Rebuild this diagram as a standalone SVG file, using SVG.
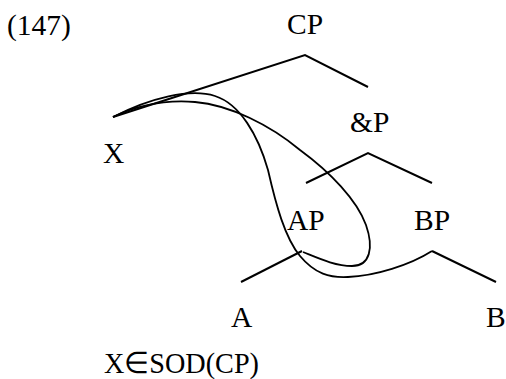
<svg xmlns="http://www.w3.org/2000/svg" width="506" height="379" viewBox="0 0 506 379">
<style>
text{font-family:"Liberation Serif","Times New Roman",serif;font-size:29.5px;fill:#000}
.ln{fill:none;stroke:#000;stroke-width:2;stroke-linejoin:miter}
.cv{fill:none;stroke:#000;stroke-width:1.8}
</style>
<rect width="506" height="379" fill="#fff"/>
<text x="7" y="35">(147)</text>
<g id="CP"><text x="287" y="34">CP</text></g>
<g id="X"><text x="103" y="163">X</text></g>
<g id="andP"><text x="350" y="132">&amp;P</text></g>
<g id="AP"><text x="287" y="230">AP</text></g>
<g id="BP"><text x="414" y="230">BP</text></g>
<g id="A"><text x="231" y="327">A</text></g>
<g id="B"><text x="486" y="327">B</text></g>
<text x="104" y="373" textLength="155" lengthAdjust="spacingAndGlyphs">X∈SOD(CP)</text>
<g id="connectors">
<polyline class="ln" points="113,117 305,55 368,87"/>
<polyline class="ln" points="306,183 368,153 432,183"/>
<polyline class="ln" points="241,282 302,251"/>
<polyline class="ln" points="432,251 496,282"/>
<path class="cv" d="M113,117 C150,98 190,88 215,96 C240,104 258,135 268,170 C276,205 285,238 300,256 C315,274 330,278 348,277 C375,276 410,265 432,251"/>
<path class="cv" d="M113,117 C140,104 170,100 195,102 C230,105 270,125 300,150 C330,172 357,200 366,225 C374,248 370,266 352,266 C335,266 318,258 303,252"/>
</g>
</svg>
